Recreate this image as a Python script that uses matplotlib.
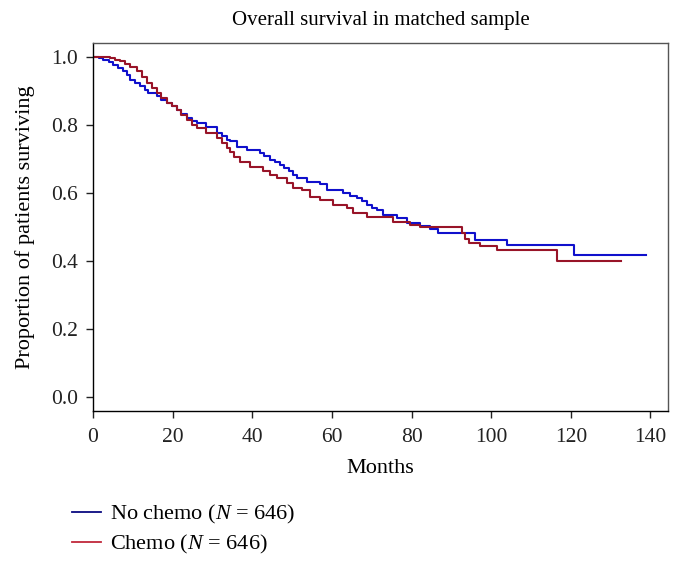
import matplotlib
matplotlib.use("Agg")
import matplotlib.pyplot as plt
from matplotlib.lines import Line2D

# Kaplan-Meier step curves (months, survival proportion)
months_no_chemo = [0, 1.5, 2.6, 4, 5.1, 6.3, 7.6, 8.5, 9.3, 10.5, 11.8, 13, 13.9, 16.0,
                   17.2, 18.5, 19.8, 21.0, 22.2, 23.5, 24.8, 26.0, 28.5, 31.1, 32.3, 33.6,
                   34.4, 36.1, 38.6, 41.9, 43, 44.4, 45.7, 47.0, 48, 49.1, 50.2, 51.2, 53.7,
                   57.0, 58.7, 62.9, 64.5, 66.2, 67.5, 68.7, 70, 71.2, 72.9, 76.3, 78.8,
                   82.1, 84.6, 86.7, 95.9, 103.9, 120.8, 138.8]
surv_no_chemo = [1.0, 0.995, 0.99, 0.983, 0.976, 0.967, 0.957, 0.945, 0.932, 0.922, 0.913,
                 0.903, 0.893, 0.883, 0.874, 0.864, 0.854, 0.844, 0.832, 0.82, 0.812, 0.805,
                 0.793, 0.776, 0.766, 0.756, 0.751, 0.736, 0.726, 0.716, 0.707, 0.697, 0.69,
                 0.682, 0.672, 0.663, 0.652, 0.643, 0.633, 0.626, 0.609, 0.599, 0.592, 0.584,
                 0.575, 0.565, 0.557, 0.55, 0.535, 0.525, 0.513, 0.503, 0.493, 0.483, 0.462,
                 0.447, 0.418, 0.418]

months_chemo = [0, 4.3, 5.5, 6.8, 8, 9.3, 11.0, 12.2, 13.5, 14.8, 16.0, 17.2, 18.5, 19.8,
                21.0, 22.2, 23.5, 24.8, 26.0, 28.5, 31.1, 32.3, 33.6, 34.4, 35.3, 36.9,
                39.4, 42.8, 44.5, 46.1, 48.6, 50.3, 52.4, 54.5, 57.0, 60.3, 63.7, 65.4,
                68.7, 75.4, 79.6, 82.1, 92.6, 93.4, 94.3, 97.2, 101.4, 116.6, 132.6]
surv_chemo = [1.0, 0.995, 0.99, 0.986, 0.978, 0.971, 0.957, 0.94, 0.922, 0.908, 0.893,
              0.879, 0.864, 0.854, 0.844, 0.83, 0.815, 0.8, 0.79, 0.776, 0.761, 0.746,
              0.731, 0.721, 0.706, 0.692, 0.677, 0.663, 0.653, 0.643, 0.628, 0.614, 0.609,
              0.587, 0.579, 0.565, 0.555, 0.54, 0.528, 0.516, 0.506, 0.499, 0.481, 0.466,
              0.454, 0.444, 0.432, 0.401, 0.401]

labels = ["No chemo ($N$ = 646)", "Chemo ($N$ = 646)"]
x_ticks = [0, 20, 40, 60, 80, 100, 120, 140]
y_ticks = [0.0, 0.2, 0.4, 0.6, 0.8, 1.0]

plt.rcParams['font.family'] = ['Liberation Serif', 'DejaVu Serif']
plt.rcParams['mathtext.fontset'] = 'custom'
plt.rcParams['mathtext.rm'] = 'Liberation Serif'
plt.rcParams['mathtext.it'] = 'Liberation Serif:italic'

fig = plt.figure(figsize=(6.83, 5.64), dpi=100)
ax = fig.add_axes([93 / 683, 1 - 411 / 564, 575 / 683, 368 / 564])

ax.step(months_no_chemo, surv_no_chemo, where='post', color='#1010cc', lw=1.5)
ax.step(months_chemo, surv_chemo, where='post', color='#981428', lw=1.5)

ax.set_xlim(0, 144.4)
ax.set_ylim(-0.04, 1.04)
ax.set_xticks(x_ticks)
ax.set_yticks(y_ticks)
ax.set_yticklabels([f"{v:.1f}" for v in y_ticks])
ax.tick_params(direction='out', length=5, width=1, labelsize=15.5, colors='#222222')
ax.tick_params(axis='y', pad=6)
ax.tick_params(axis='x', pad=7)
for side in ['top', 'right']:
    ax.spines[side].set_color('#555555')
for spine in ax.spines.values():
    spine.set_linewidth(1)

ax.set_title("Overall survival in matched sample", fontsize=15, pad=13)
ax.set_xlabel("Months", fontsize=16, labelpad=9)
ax.set_ylabel("Proportion of patients surviving", fontsize=16, labelpad=11)

handles = [Line2D([], [], color='#0a0a80', lw=1.3),
           Line2D([], [], color='#c0283a', lw=1.3)]
fig.legend(handles, labels, loc='upper left', bbox_to_anchor=(63 / 683, 1 - 494 / 564),
           frameon=False, fontsize=16, handlelength=1.3, handletextpad=0.4,
           labelspacing=0.32, borderaxespad=0)

fig.savefig("out.png", dpi=100)
